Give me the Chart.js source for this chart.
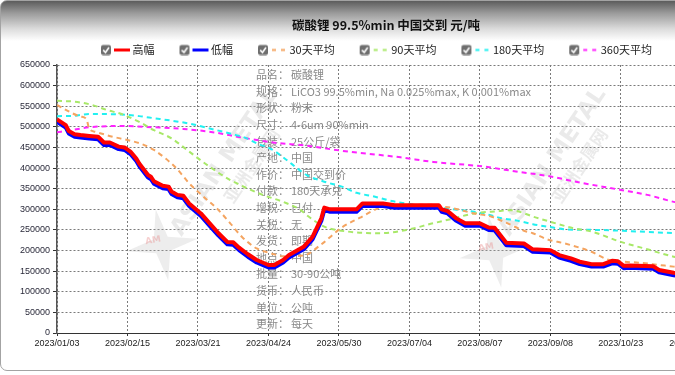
<!DOCTYPE html>
<html><head><meta charset="utf-8">
<script src="https://cdn.jsdelivr.net/npm/chart.js@4.4.1/dist/chart.umd.min.js"></script>
<style>
html,body{margin:0;padding:0;width:675px;height:375px;overflow:hidden;background:#fff;}
#frame{position:absolute;left:0;top:0;width:768px;height:369px;border:1px solid #a3a3a3;border-radius:7px;background:linear-gradient(to bottom,#5c5c5c 0px,#9a9a9a 12px,#dcdcdc 28px,#ffffff 40px);}
#c{position:absolute;left:0;top:0;}
</style></head><body>
<div id="frame"></div>
<canvas id="c" width="770" height="375"></canvas>
<script>
// ---------- data ----------
const titleText = '碳酸锂 99.5%min 中国交到 元/吨';
const seriesNames = ['高幅', '低幅', '30天平均', '90天平均', '180天平均', '360天平均'];
const tickDates = ['2023/01/03','2023/02/15','2023/03/21','2023/04/24','2023/05/30','2023/07/04','2023/08/07','2023/09/08','2023/10/23','2023/11/24'];
const tickDays = [0, 24, 48, 72, 96, 120, 144, 168, 192, 216];
const lastDay = 237;

const highDays = [0,3,4,6,8,11,14,16,18,21,23,25,27,28,31,32,33,36,38,39,41,43,45,49,52,55,58,60,62,65,68,72,74,77,79,84,87,90,91,93,102,104,111,115,130,131,133,136,139,144,147,149,153,159,162,168,171,175,178,182,186,189,191,193,195,203,205,210,212];
const highVals = [518000,504000,490000,482000,480000,478000,476000,462000,462000,452000,450000,440000,423000,411000,383000,379000,368000,357000,355000,343000,335000,333000,314000,290000,266000,242000,221000,220000,207000,191000,177000,165000,165000,177000,189000,209000,233000,278000,304000,300000,300000,314000,314000,310000,310000,300000,296000,278000,266000,266000,256000,255000,219000,217000,203000,201000,189000,181000,173000,167000,167000,175000,174000,163000,164000,162000,153000,146000,144000];
const lowVals = [512000,498000,484000,476000,474000,472000,470000,456000,456000,446000,444000,434000,417000,405000,377000,373000,362000,351000,349000,337000,329000,327000,308000,284000,260000,236000,215000,214000,201000,185000,171000,159000,159000,171000,183000,203000,227000,272000,298000,294000,294000,308000,308000,304000,304000,294000,290000,272000,260000,260000,250000,249000,213000,211000,197000,195000,183000,175000,167000,161000,161000,169000,168000,157000,158000,156000,147000,140000,138000];

const ma30Days = [0,3,8,10,11,13,19,24,29,33,37,41,45,50,55,59,63,68,73,77,84,90,97,103,110,116,128,131,134,142,148,154,159,162,167,173,182,188,193,199,205,210,212];
const ma30Vals = [553000,541000,525000,519000,495000,488000,476000,468000,458000,444000,423000,397000,363000,330000,298000,266000,233000,205000,193000,186000,188000,215000,256000,279000,304000,310000,311000,307000,304000,290000,282000,264000,248000,242000,227000,217000,197000,177000,173000,170000,165000,161000,159000];

const ma90Days = [0,6,12,17,22,28,33,39,45,52,59,66,70,77,83,85,91,99,110,119,128,134,142,151,154,164,176,182,192,201,210,212];
const ma90Vals = [563000,561000,553000,541000,531000,512000,492000,472000,440000,403000,371000,347000,335000,318000,298000,286000,258000,246000,242000,250000,266000,276000,290000,296000,298000,278000,254000,246000,221000,203000,185000,182000];

const ma180Days = [0,6,11,14,22,28,33,39,45,52,61,64,68,73,77,83,85,91,97,102,108,114,122,128,136,140,147,151,157,162,167,174,184,195,210,212];
const ma180Vals = [526000,527000,531000,531000,530000,526000,521000,515000,508000,496000,480000,474000,460000,446000,426000,393000,383000,367000,355000,340000,331000,320000,311000,306000,299000,296000,287000,279000,272000,264000,258000,251000,250000,247000,242000,241000];

const ma360Days = [0,4,11,22,33,43,54,63,76,83,97,117,128,145,157,167,178,192,201,210,212];
const ma360Vals = [487000,491000,499000,502000,499000,495000,486000,474000,460000,456000,442000,426000,415000,404000,391000,381000,365000,347000,335000,318000,315000];

const infoLabels = ['品名：','规格：','形状：','尺寸：','包装：','产地：','作价：','付款：','增税：','关税：','发货：','地点：','批量：','货币：','单位：','更新：'];
const infoValues = ['碳酸锂','LiCO3 99.5%min, Na 0.025%max, K 0.001%max','粉末','4-6um 90%min','25公斤/袋','中国','中国交到价','180天承兑','已付','无','即期','中国','30-90公吨','人民币','公吨','每天'];

// ---------- helpers ----------
const pts = (days, vals) => days.map((d, i) => ({x: d, y: vals[i]}));
const CJK = '"Noto Sans CJK SC", "Noto Sans", sans-serif';

function makeIcon(color, dashed, lw) {
  const c = document.createElement('canvas');
  c.width = 34; c.height = 12;
  const g = c.getContext('2d');
  g.fillStyle = '#6e6e6e';
  g.beginPath();
  if (g.roundRect) g.roundRect(4, 1.5, 10, 10, 2); else g.rect(4, 1.5, 10, 10);
  g.fill();
  g.strokeStyle = '#fff'; g.lineWidth = 1.6;
  g.beginPath(); g.moveTo(6.2, 6.6); g.lineTo(8.5, 9); g.lineTo(12, 4); g.stroke();
  g.strokeStyle = color; g.lineWidth = lw;
  g.setLineDash(dashed ? [4, 5] : []);
  g.beginPath(); g.moveTo(dashed ? 18 : 17, 6.5); g.lineTo(33, 6.5); g.stroke();
  return c;
}

const colors = ['#ff0000', '#0000ff', '#f4a460', '#a8e868', '#22f0f0', '#ff22ff'];
const legendIcons = [
  makeIcon(colors[0], false, 3), makeIcon(colors[1], false, 3),
  makeIcon(colors[2], true, 2), makeIcon(colors[3], true, 2),
  makeIcon(colors[4], true, 2), makeIcon(colors[5], true, 2)
];

function drawMark(ctx, tx, ty, sx, sy) {
  ctx.save();
  ctx.translate(tx, ty); ctx.rotate(-56 * Math.PI / 180);
  ctx.fillStyle = 'rgba(175,175,175,0.26)';
  ctx.textAlign = 'center'; ctx.textBaseline = 'middle';
  ctx.font = 'bold 23px "DejaVu Sans"';
  ctx.fillText('ASIAN METAL', 0, 0);
  ctx.font = 'bold 17px ' + CJK;
  ctx.fillText('亚洲金属网', 12, 24);
  ctx.restore();
  ctx.save();
  ctx.translate(sx, sy); ctx.rotate(-10 * Math.PI / 180);
  ctx.fillStyle = 'rgba(185,185,185,0.25)';
  ctx.beginPath();
  for (let k = 0; k < 8; k++) {
    const r = k % 2 === 0 ? 36 : 10;
    const a = k * Math.PI / 4 - Math.PI / 2;
    const px = r * Math.cos(a), py = r * Math.sin(a);
    if (k === 0) ctx.moveTo(px, py); else ctx.lineTo(px, py);
  }
  ctx.closePath(); ctx.fill();
  ctx.fillStyle = 'rgba(230,120,120,0.35)';
  ctx.font = 'bold 9px "DejaVu Sans"'; ctx.textAlign = 'center'; ctx.textBaseline = 'middle';
  ctx.fillText('AM', -8, -6);
  ctx.restore();
}

const decor = {
  id: 'decor',
  beforeDatasetsDraw(chart) {
    const ctx = chart.ctx;
    drawMark(ctx, 225, 162, 162, 245);
    drawMark(ctx, 553, 162, 495, 252);
    ctx.save();
    ctx.font = '11px ' + CJK;
    ctx.fillStyle = '#8a8a8a';
    ctx.textBaseline = 'middle'; ctx.textAlign = 'left';
    infoLabels.forEach((t, k) => {
      const y = 75 + k * 16.6;
      ctx.fillText(t, 256, y);
      ctx.fillText(infoValues[k], 291, y);
    });
    ctx.restore();
  },
  afterDraw(chart) {
    const ctx = chart.ctx;
    ctx.save();
    ctx.font = 'bold 12.5px ' + CJK;
    ctx.fillStyle = '#111';
    ctx.textAlign = 'center'; ctx.textBaseline = 'middle';
    ctx.fillText(titleText, 386, 25);
    ctx.restore();
  }
};

const lineBase = {pointRadius: 0, pointHoverRadius: 0, fill: false};
const maBase = Object.assign({}, lineBase, {borderWidth: 2, borderDash: [5, 4], cubicInterpolationMode: 'monotone'});

new Chart(document.getElementById('c'), {
  type: 'line',
  data: {
    datasets: [
      Object.assign({}, lineBase, {label: seriesNames[0], data: pts(highDays, highVals), borderColor: colors[0], borderWidth: 4, borderJoinStyle: 'round', order: 0}),
      Object.assign({}, lineBase, {label: seriesNames[1], data: pts(highDays, lowVals), borderColor: colors[1], borderWidth: 4, borderJoinStyle: 'round', order: 1}),
      Object.assign({}, maBase, {label: seriesNames[2], data: pts(ma30Days, ma30Vals), borderColor: colors[2], order: 2}),
      Object.assign({}, maBase, {label: seriesNames[3], data: pts(ma90Days, ma90Vals), borderColor: colors[3], order: 3}),
      Object.assign({}, maBase, {label: seriesNames[4], data: pts(ma180Days, ma180Vals), borderColor: colors[4], order: 4}),
      Object.assign({}, maBase, {label: seriesNames[5], data: pts(ma360Days, ma360Vals), borderColor: colors[5], order: 5})
    ]
  },
  options: {
    responsive: false,
    animation: false,
    events: [],
    layout: {padding: {top: 19, left: 0, right: 17, bottom: 24}},
    plugins: {
      title: {display: false},
      tooltip: {enabled: false},
      legend: {
        display: true,
        position: 'top',
        align: 'center',
        labels: {
          usePointStyle: true,
          pointStyleWidth: 26,
          padding: 25,
          color: '#222',
          font: {size: 11, family: '"Noto Sans CJK SC", sans-serif'},
          generateLabels: (chart) => chart.data.datasets.map((ds, i) => ({
            text: ds.label, pointStyle: legendIcons[i], fontColor: '#222',
            hidden: false, datasetIndex: i, lineWidth: 0,
            strokeStyle: 'rgba(0,0,0,0)', fillStyle: 'rgba(0,0,0,0)'
          }))
        }
      }
    },
    scales: {
      x: {
        type: 'linear',
        min: 0,
        max: lastDay,
        afterBuildTicks: (s) => { s.ticks = tickDays.map(v => ({value: v})); },
        afterFit: (s) => { s.height = 18; },
        ticks: {
          autoSkip: false, maxRotation: 0, minRotation: 0, padding: 2,
          color: '#222',
          font: {size: 9, family: '"Liberation Sans Narrow", "Liberation Sans", Arial, sans-serif'},
          callback: (v) => { const k = tickDays.indexOf(v); return k >= 0 ? tickDates[k] : ''; }
        },
        grid: {color: '#7a7a7a', lineWidth: 1, tickLength: 3, tickColor: '#333', drawTicks: true},
        border: {display: true, color: '#333', width: 1, dash: [2, 2]}
      },
      y: {
        min: 0,
        max: 650000,
        afterFit: (s) => { s.width = 57; },
        ticks: {
          stepSize: 50000, padding: 3, color: '#2a2a3a',
          font: {size: 9, family: '"Liberation Sans", Arial, sans-serif'},
          callback: (v) => String(v)
        },
        grid: {color: '#7a7a7a', lineWidth: 1, tickLength: 4, tickColor: '#333', drawTicks: true},
        border: {display: true, color: '#555', width: 1.5, dash: [2, 2]}
      }
    }
  },
  plugins: [decor]
});
</script>
</body></html>
